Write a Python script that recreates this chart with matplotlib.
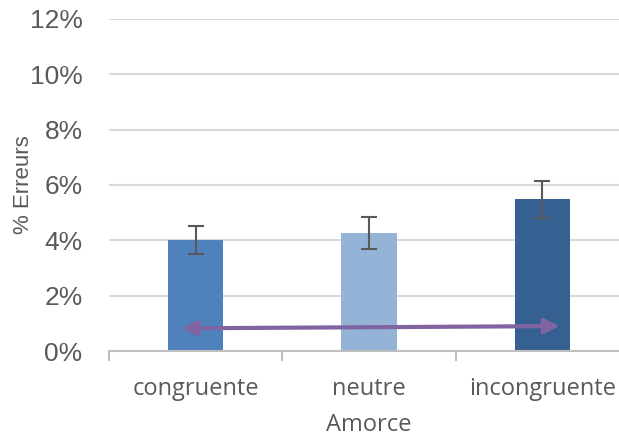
import numpy as np
import matplotlib
matplotlib.use("Agg")
import matplotlib.pyplot as plt
from matplotlib.ticker import FuncFormatter

# données
amorces = ["congruente", "neutre", "incongruente"]
erreurs = [4.0, 4.27, 5.48]
err_bars = [0.5, 0.58, 0.68]
couleurs = ["#4f81bd", "#95b3d7", "#366092"]
fleche_x = [-0.08, 2.1]
fleche_y = [0.82, 0.9]

gris = "#595959"

fig = plt.figure(figsize=(6.19, 4.36), dpi=100)
# l'axe déborde à droite, comme dans l'image d'origine (recadrée)
ax = fig.add_axes([109/619, 1 - 351/436, (629 - 109)/619, (351 - 19)/436])

x = np.arange(len(amorces))
ax.bar(x, erreurs, width=0.32, color=couleurs, zorder=2)
ax.errorbar(x, erreurs, yerr=err_bars, fmt="none", ecolor=gris,
            elinewidth=1.5, capsize=6, capthick=1.5, zorder=3)

ax.annotate("", xy=(fleche_x[1], fleche_y[1]), xytext=(fleche_x[0], fleche_y[0]),
            arrowprops=dict(arrowstyle="<|-|>", color="#8064a2", lw=3,
                            mutation_scale=22, shrinkA=0, shrinkB=0),
            zorder=4)

ax.set_xlim(-0.5, 2.5)
ax.set_ylim(0, 12)
ax.set_yticks(range(0, 13, 2))
ax.yaxis.set_major_formatter(FuncFormatter(lambda v, p: f"{v:.0f}%"))
ax.grid(axis="y", color="#d9d9d9", lw=1.5, zorder=0)
ax.set_axisbelow(True)

for s in ["top", "right", "left"]:
    ax.spines[s].set_visible(False)
ax.spines["bottom"].set_color("#bfbfbf")
ax.spines["bottom"].set_linewidth(1.5)

ax.set_xticks([-0.5, 0.5, 1.5, 2.5])
ax.set_xticklabels([])
ax.set_xticks(x, minor=True)
ax.set_xticklabels(amorces, minor=True, fontsize=17, color=gris, family="Open Sans")
ax.tick_params(axis="x", which="major", length=7, width=1.5, color="#bfbfbf")
ax.tick_params(axis="x", which="minor", length=0, pad=19)
ax.tick_params(axis="y", length=0, labelsize=19, labelcolor=gris, pad=19)
for t in ax.get_yticklabels():
    t.set_family("Liberation Sans")

ax.set_xlabel("Amorce", fontsize=17, color=gris, family="Open Sans", labelpad=8)
ax.set_ylabel("% Erreurs", fontsize=16, color=gris, family="Liberation Sans")
ax.yaxis.set_label_coords(-0.145, 0.5)

fig.savefig("out.png", dpi=100)
